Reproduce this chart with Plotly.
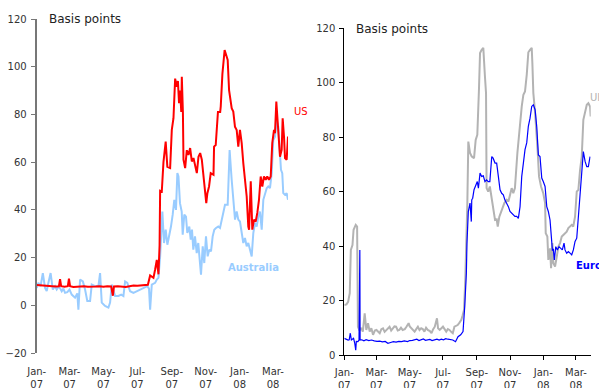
import datetime as dt
import plotly.graph_objects as go

BASE = dt.datetime(2007, 1, 1)

# ---- data: day offsets from 1-Jan-2007 and values (basis points) ----
us_day = [0, 7, 14, 21, 28, 35, 40, 42, 44, 50, 56, 58, 60, 66, 72, 78, 85, 92, 99, 106, 113, 120, 127, 134, 137, 139,
          146, 153, 160, 167, 174, 181, 188, 195, 200, 204, 207, 210, 213, 216, 219, 221, 222, 225, 228, 232, 235, 240,
          243, 246, 249, 252, 254, 256, 258, 260, 261, 263, 264, 267, 270, 273, 276, 279, 282, 285, 288, 291, 294, 297,
          300, 303, 305, 307, 310, 313, 318, 319, 322, 326, 330, 331, 334, 338, 340, 343.5, 346, 350.7, 353.6, 356.6,
          359.7, 362.6, 365.6, 368.7, 371.6, 374.6, 377.7, 380.6, 382, 385, 387.8, 390.8, 393.9, 396.8, 399.8, 402.9,
          405.8, 408.8, 411.9, 414.7, 417.8, 420.9, 423.7, 426.8, 428.6, 431, 433.5, 435.8, 437.6, 440.6, 442.4, 444.8,
          446.6, 449.6, 452]
us_val = [8.5, 8.3, 8.2, 8, 8, 7.9, 8, 11, 8, 7.8, 8, 11.2, 8, 7.7, 7.8, 7.9, 8, 7.8, 8, 7.9, 8, 7.8, 8, 7.9, 4, 7.9,
          8, 7.8, 7.7, 8, 8.3, 8.2, 8.4, 8.4, 8.6, 12.5, 12, 11.5, 15, 19, 13, 25, 48, 47.7, 60, 68.6, 58, 57.5,
          73.5, 78.4, 95, 91.6, 94, 84.7, 90, 81, 95.8, 80.5, 61, 57.5, 65, 63, 65.9, 60.3, 61.7, 58.2, 55.4, 62.3, 63.8, 61,
          54.7, 47.7, 42.8, 47, 49.8, 55.4, 54.7, 66.5, 67.2, 81, 81, 83.3, 97, 107, 105, 102.8, 90.2, 82.6, 81.2, 74.9,
          73.5, 66.5, 73.5, 68, 59.6, 51.2, 45.6, 33, 31.7, 52, 31.7, 35.9, 35.1, 38.7, 44.2, 54,
          49.8, 54, 52.6, 54, 52.6, 54, 68, 73.5, 72.1, 85.4, 77.7, 68, 62.3, 65.1, 78.4, 70.7,
          61.7, 61, 70.7]

aus_day = [0, 3, 7, 11, 15, 18, 21, 25, 29, 33, 36, 40, 45, 48, 51, 55, 59, 63, 69, 73, 75, 78, 83, 87, 91, 96, 99,
           105, 111, 114, 117, 123, 129, 132, 135, 141, 147, 152, 156, 159, 163, 168, 174, 180, 186, 192, 199, 202,
           204, 207, 213, 216, 219, 222, 226, 229, 232, 235, 238.5, 241.5, 244.6, 247.5, 250.5, 253, 255, 257.7,
           260.8, 262.6, 265.5, 268.5, 270.9, 274.5, 277, 279.3, 281.7, 284.7, 287.8, 290.6, 293.7, 295.5, 298.6,
           301.4, 304.5, 307.5, 310.4, 313.5, 316.5, 319.4, 322.5, 326.6, 329.7, 334.5, 338.7, 343.5, 347, 350.7,
           353.6, 356.7, 359.7, 362.6, 365.6, 368.7, 371.6, 374.6, 377.7, 380.6, 383.6, 386.7, 389.6, 392.6, 395.7,
           398.6, 401.6, 404.7, 407.6, 410.6, 413.7, 416.5, 419.6, 422.7, 425.5, 428.6, 431.7, 434.5, 437.6, 439.4,
           441.7, 443.5, 446.6, 449.6, 452]
aus_val = [7.3, 9.4, 8, 13.5, 7.3, 6, 9.4, 13.5, 6.6, 8, 6.6, 8, 5.9, 7, 5.2, 5.5, 6.6, 4.5, 3.2, 5, -1.8, 10.8, 10, 6.6,
           1.8, 1.8, 8.7, 8, 8, 13.5, 1.1, -0.3, -1, 1.1, 8.7, 3.9, 3.9, 4.5, 3.9, 10, 9.4, 5.9, 5.2, 5.9, 6.6, 7.3, 8,
           7, -1.8, 8.7, 9.4, 10.8, 11.5, 20.5, 39.3, 26.1, 31.7, 25.4, 28.9, 33, 38, 44.2, 40, 55.4, 54, 42.8,
           39.3, 29.6, 38, 37.2, 30.3, 33, 27.5, 31.7, 23.3, 28.9, 21.9, 26.1, 17.7, 12.8, 24.7,
           17.7, 28.9, 20.5, 23.3, 22.6, 28.9, 31.7, 32.4, 33, 32.4, 38, 42.1, 42.1, 65.1, 52.6,
           42.8, 35.9, 39.3, 35.9, 35.1, 29.6, 26.1, 28.2, 24.7, 26.1, 23.3, 20.5, 30.3, 34.5, 33,
           37.2, 39.3, 31.7, 44.2, 47, 49.1, 49.8, 49.1, 55.4, 69.3, 70.7, 77.7, 74.9, 61.7, 56.8,
           55.4, 47, 46.3, 47, 44.2]

uk_day = [0, 4, 7, 10, 12, 15, 17, 21, 23.5, 25, 28, 31, 34, 37.4, 40.4, 43.5, 46.6, 49.6, 52.7, 56, 59, 62, 65, 68,
          71, 74, 77, 80, 83, 86, 89, 92, 95, 98, 101, 104, 107, 111, 114, 118, 120, 123, 126, 129, 132, 135, 138,
          141, 144, 147, 150, 153, 157, 160, 163, 166, 170, 172, 175, 178, 181, 184, 187, 190, 193, 196, 199, 202,
          205, 208, 211, 214.7, 217, 219.6, 222, 224, 225.7, 227.5, 230.6, 233.8, 238, 241, 244, 247, 249, 252, 255,
          258, 260, 261, 264, 267, 270, 273, 276.5, 279.5, 281.5, 284.4, 287.5, 290.6, 293.6, 298, 301, 304, 307,
          310, 313, 317.5, 321, 325.5, 328.5, 331.5, 334.7, 337.6, 340.7, 343.8, 345, 346.8, 350, 353, 354.9, 357.2,
          360.9, 365, 368.3, 369.5, 372.5, 374.3, 377.4, 379.3, 381.7, 383.5, 386.6, 389.7, 392.7, 395.8, 398.9,
          401.8, 404.9, 408, 411, 414.1, 417.2, 420, 423.3, 426.4, 429.4, 432.5, 435.6, 438.5, 441.7, 444.8, 447.7,
          450.8, 452]
uk_val = [18.4, 18.6, 19.5, 22.7, 38.6, 40.4, 46, 47.8, 47.2, 10.4, 9, 10, 8.6, 15.3, 9.2, 11.7, 8.6, 9.8, 7.4, 9,
          9.2, 8.5, 8, 9.5, 9.8, 8.5, 9.2, 10, 10.4, 9, 9.8, 10.5, 10.4, 9, 9.2, 10, 9.2, 9.5, 10.4, 11.7, 10.5, 9.8,
          9.5, 8.6, 9.5, 10.4, 9.2, 9.8, 9.5, 8.6, 10, 9.2, 8.8, 8, 9.5, 10.4, 13.5, 9.8, 9.2, 9.9, 10.4, 9.5, 8.6,
          9.5, 9.2, 8.5, 8, 10.4, 10.8, 11, 11.8, 12.9, 14.5, 16.5, 28, 40, 55.8, 78.4, 74.2, 72.9, 72.3, 79, 80.9,
          97.4, 110.9, 112.1, 112.8, 102.3, 96.2, 61.3, 60, 61.9, 58.2, 53.3, 49.6, 49.8, 47.2, 50.8, 52.7, 54.5,
          55.8, 57, 56.4, 58.8, 61.3, 59.4, 61.3, 74.2, 82.7, 91.3, 95.6, 96.8, 103, 111.2, 112.1, 112.8, 107.2,
          96.2, 88.9, 81.5, 74.2, 65.6, 61.9, 59.4, 55.8, 44.7, 43.5, 34.9, 39.2, 31.9, 41.1, 33.7, 32.5, 36.1, 39.8,
          41.1, 43.5, 44.1, 44.7, 45.3, 46.6, 47.2, 47.8, 47.2, 50.8, 60, 60.7, 68, 72.9, 86.4, 88.9, 91.9, 92.5,
          91.3, 87.6]

euro_day = [0, 3, 7, 9, 11, 13, 17, 19, 21, 22, 25, 27, 28.5, 29, 32, 36, 40, 45, 50, 55, 60, 65, 70, 75, 80, 85, 90,
            95, 100, 105, 110, 116, 120, 125, 129, 133, 137, 141, 145, 149, 153, 157, 161, 165, 170, 174, 178, 182,
            186, 190, 195, 199, 204, 208.6, 213.5, 217.8, 220.9, 223.9, 225, 227.5, 230.6, 233, 233.8, 235.5, 238,
            241, 244, 246, 249, 252, 255, 258, 261, 264, 267, 270.5, 273, 276.5, 279.5, 282.6, 285.7, 288.7, 291.7,
            294.7, 298, 301, 304, 307, 310, 313, 316.3, 319.3, 322.4, 325.5, 328.5, 331.5, 334.7, 337.6, 340.7,
            343.8, 346.8, 350, 353, 356, 359, 362.2, 365, 368.3, 371.4, 374.3, 377.4, 379.3, 381.7, 383.5, 385.3,
            387.9, 390.8, 393.8, 396.8, 399.9, 403.1, 404.9, 408, 411, 414.1, 417.2, 420.2, 423.3, 426.4, 429.4,
            432.5, 435.6, 438.5, 441.7, 444.8, 447.7, 450.8]
euro_val = [6.1, 5.8, 5.5, 5.6, 8, 5.5, 6.1, 4.5, 1.8, 5, 4.9, 5.5, 38.6, 5.5, 5.6, 5.2, 5.6, 5.3, 5.5, 5.2, 5, 5.1,
            4.8, 5, 4.3, 4.6, 4.9, 4.7, 5, 4.9, 5.2, 4.9, 5.3, 5.4, 5.5, 5.8, 5.3, 5.5, 5.9, 5.4, 5.5, 5.7, 5.3, 5.5,
            5.8, 5.5, 5.8, 5.6, 6, 5.8, 5.5, 5.5, 4.9, 6.7, 7.4, 8.6, 17.8, 30, 41, 52.7, 55.8, 49, 57, 57.6, 60.7,
            62.5, 63.7, 61.3, 66.8, 65.6, 65.8, 63.7, 64.3, 63.7, 63.7, 72.9, 72.3, 70.5, 70.5, 65.6, 60.7, 59.4,
            58.8, 56.9, 55.8, 54.5, 52.7, 52.1, 51.5, 50.9, 50.9, 50.2, 54.5, 65.6, 70.5, 75.4, 78, 84, 87, 91.3,
            91.9, 90.1, 83.9, 73.5, 72.9, 65, 63.7, 61.9, 54.5, 52.7, 49.6, 44.7, 38.6, 38.8, 34.9, 39.8, 38.6, 39.8,
            39.2, 38.6, 41.1, 38.6, 37.4, 38, 37.4, 36.8, 38.6, 41.7, 42.9, 50.8, 59.4, 66.8, 74.7, 71.1, 69.2, 69.2,
            72.9]

tick_dates = ["2007-01-01", "2007-03-01", "2007-05-01", "2007-07-01", "2007-09-01", "2007-11-01",
              "2008-01-01", "2008-03-01"]
tick_text = ["Jan-<br>07", "Mar-<br>07", "May-<br>07", "Jul-<br>07", "Sep-<br>07", "Nov-<br>07",
             "Jan-<br>08", "Mar-<br>08"]
x_range = ["2007-01-01", "2008-03-28"]


def to_dates(days):
    return [BASE + dt.timedelta(days=d) for d in days]


FONT = "DejaVu Sans"
TXT = "#333333"

fig = go.Figure()
fig.add_trace(go.Scatter(x=to_dates(aus_day), y=aus_val, mode="lines", line=dict(color="#99ccff", width=2),
                         xaxis="x", yaxis="y", showlegend=False))
fig.add_trace(go.Scatter(x=to_dates(us_day), y=us_val, mode="lines", line=dict(color="#ff0000", width=2),
                         xaxis="x", yaxis="y", showlegend=False))
fig.add_trace(go.Scatter(x=to_dates(uk_day), y=uk_val, mode="lines", line=dict(color="#b3b3b3", width=2),
                         xaxis="x2", yaxis="y2", showlegend=False))
fig.add_trace(go.Scatter(x=to_dates(euro_day), y=euro_val, mode="lines", line=dict(color="#0000ff", width=1.2),
                         xaxis="x2", yaxis="y2", showlegend=False))

W, H = 599, 388
left_dom = [36.7 / W, 288 / W]
left_ydom = [(H - 353) / H, (H - 19) / H]
right_dom = [344.3 / W, 590.7 / W]
right_ydom = [(H - 355) / H, (H - 28.3) / H]
zero_pos = left_ydom[0] + (left_ydom[1] - left_ydom[0]) * 20 / 140

tickfont = dict(family=FONT, size=10, color=TXT)

fig.update_layout(
    width=W, height=H, margin=dict(l=0, r=0, t=0, b=0),
    paper_bgcolor="white", plot_bgcolor="white",
    xaxis=dict(domain=left_dom, anchor="y", type="date", range=x_range, tickmode="array",
               tickvals=tick_dates, ticktext=tick_text, ticks="", showline=False, showgrid=False,
               zeroline=False, tickfont=tickfont, automargin=False, ticklabelstandoff=11),
    xaxis3=dict(overlaying="x", anchor="free", position=zero_pos, type="date", range=x_range,
                tickmode="array", tickvals=tick_dates, showticklabels=False, ticks="outside", ticklen=4,
                tickcolor="black", showline=True, linecolor="black", linewidth=1, showgrid=False,
                zeroline=False, automargin=False),
    yaxis=dict(domain=left_ydom, anchor="x", range=[-20, 120], tickmode="array",
               tickvals=[-20, 0, 20, 40, 60, 80, 100, 120], ticks="outside", ticklen=4, tickcolor="#777777",
               showline=True, linecolor="#777777", linewidth=2, showgrid=False, zeroline=False,
               tickfont=tickfont, automargin=False, ticklabelstandoff=2),
    xaxis2=dict(domain=right_dom, anchor="y2", type="date", range=x_range, tickmode="array",
                tickvals=tick_dates, ticktext=tick_text, ticks="outside", ticklen=4, tickcolor="black",
                showline=True, linecolor="black", linewidth=1, showgrid=False, zeroline=False,
                tickfont=tickfont, automargin=False, ticklabelstandoff=4),
    yaxis2=dict(domain=right_ydom, anchor="x2", range=[0, 120], tickmode="array",
                tickvals=[0, 20, 40, 60, 80, 100, 120], ticks="outside", ticklen=4, tickcolor="black",
                showline=True, linecolor="black", linewidth=1, showgrid=False, zeroline=False,
                tickfont=tickfont, automargin=False, ticklabelstandoff=2),
)

annos = [
    dict(text="Basis points", x=47 / W, y=(H - 19) / H, size=12, color="#222222", bold=False),
    dict(text="Basis points", x=354 / W, y=(H - 29) / H, size=12, color="#222222", bold=False),
    dict(text="US", x=292 / W, y=(H - 111) / H, size=10, color="#ff0000", bold=False),
    dict(text="Australia", x=226 / W, y=(H - 267) / H, size=10, color="#99ccff", bold=True),
    dict(text="UK", x=588 / W, y=(H - 97) / H, size=10, color="#b3b3b3", bold=False),
    dict(text="Euro", x=574 / W, y=(H - 265) / H, size=10, color="#0000ff", bold=True),
]
for a in annos:
    fig.add_annotation(xref="paper", yref="paper", x=a["x"], y=a["y"], xanchor="left", yanchor="middle",
                       text=("<b>%s</b>" % a["text"]) if a["bold"] else a["text"], showarrow=False,
                       font=dict(family=FONT, size=a["size"], color=a["color"]))

fig.write_html("out.html", config={"displayModeBar": False},
               post_script="document.body.style.margin='0';document.body.style.overflow='hidden';")
